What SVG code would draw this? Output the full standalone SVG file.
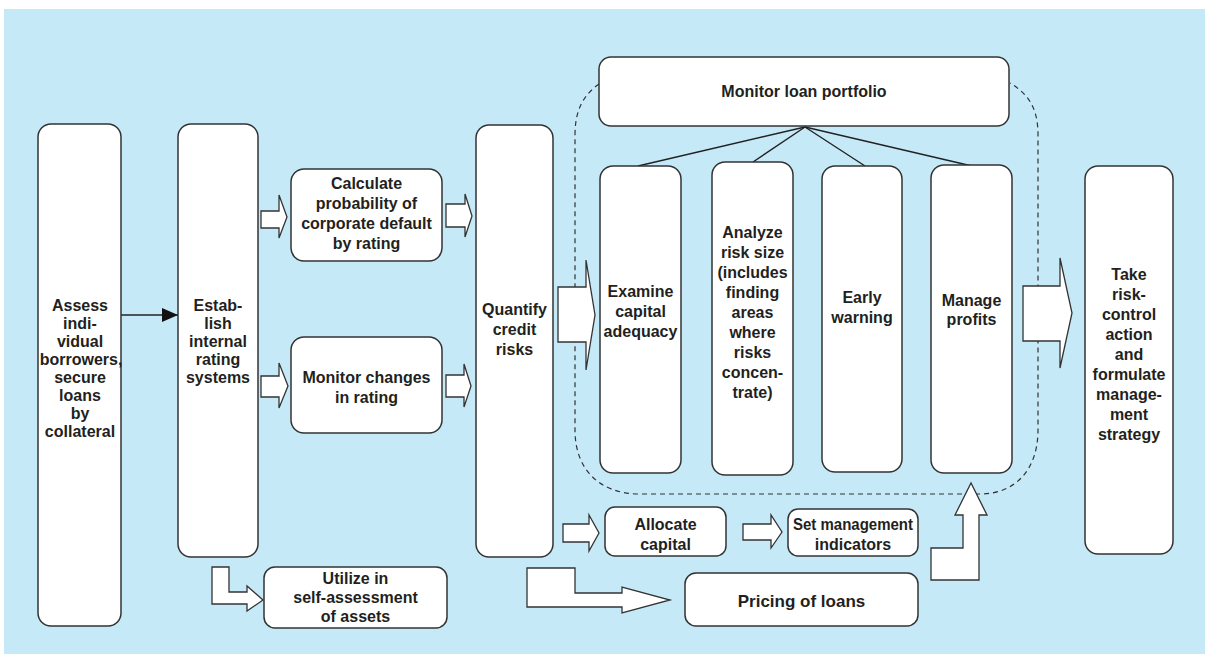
<svg xmlns="http://www.w3.org/2000/svg" width="1205" height="654" viewBox="0 0 1205 654">
  <style>
    .box { fill: #ffffff; stroke: #333333; stroke-width: 1.5; }
    .block { fill: #ffffff; stroke: #333333; stroke-width: 1.3; stroke-linejoin: miter; }
    .link { fill: none; stroke: #222222; stroke-width: 1.4; }
    .zone { fill: none; stroke: #333333; stroke-width: 1.2; stroke-dasharray: 5 4; }
    text { font-family: "Liberation Sans", Arial, Helvetica, sans-serif; font-weight: bold; font-size: 16px; fill: #231f20; text-anchor: middle; }
  </style>
  <defs>
    <marker id="solidHead" viewBox="0 0 16 14" refX="16" refY="7" markerWidth="16" markerHeight="14" markerUnits="userSpaceOnUse" orient="auto">
      <path d="M0,0 L16,7 L0,14 Z" fill="#111111"/>
    </marker>
  </defs>

  <!-- backdrop -->
  <rect x="0" y="0" width="1205" height="654" fill="#ffffff"/>
  <rect x="4" y="9" width="1201" height="645" fill="#c6e9f8"/>

  <!-- dashed boundary of the portfolio-monitoring stage -->
  <path class="zone" d="M599,84 C582,96 575,112 575,135 L575,430 C575,470 600,494 640,494 L980,494 C1015,494 1038,470 1038,430 L1038,135 C1038,110 1030,95 1010,83"/>

  <!-- connectors -->
  <g id="connectors">
    <line class="link" x1="121" y1="315" x2="178" y2="315" marker-end="url(#solidHead)"/>
    <!-- fan-out from the portfolio box -->
    <line class="link" x1="805" y1="127" x2="638" y2="166"/>
    <line class="link" x1="805" y1="127" x2="753" y2="162"/>
    <line class="link" x1="805" y1="127" x2="865" y2="166"/>
    <line class="link" x1="805" y1="127" x2="972" y2="166"/>
    <!-- hollow block arrows -->
    <polygon class="block" points="261,211 279,211 279,195 287,217 279,238 279,228 261,228"/>
    <polygon class="block" points="446,204 465,204 465,194 472,216 465,237 465,227 446,227"/>
    <polygon class="block" points="261,376 279,376 279,363 288,386 279,408 279,397 261,397"/>
    <polygon class="block" points="446,375 464,375 464,364 471,386 464,407 464,397 446,397"/>
    <polygon class="block" points="558,287 586,287 586,260 595,315 586,370 586,342 558,342"/>
    <polygon class="block" points="1023,286 1060,286 1060,258 1072,313 1060,368 1060,341 1023,341"/>
    <polygon class="block" points="563,524 589,524 589,515 599,533 589,551 589,542 563,542"/>
    <polygon class="block" points="743,524 771,524 771,515 782,532 771,548 771,540 743,540"/>
    <polygon class="block" points="212,567 229,567 229,592 247,592 247,586 263,600 247,611 247,604 212,604"/>
    <polygon class="block" points="527,568 575,568 575,593 622,593 622,587 670,600 622,613 622,607 527,607"/>
    <polygon class="block" points="931,548 963,548 963,515 955,515 971,483 987,515 979,515 979,580 931,580"/>
  </g>

  <g id="assess">
    <rect class="box" x="38" y="124" width="83" height="502" rx="13"/>
    <text x="80" y="311">Assess</text>
    <text x="80" y="329">indi-</text>
    <text x="80" y="347">vidual</text>
    <text x="81" y="365">borrowers,</text>
    <text x="80" y="383">secure</text>
    <text x="80" y="401">loans</text>
    <text x="80" y="419">by</text>
    <text x="80" y="437">collateral</text>
  </g>

  <g id="establish">
    <rect class="box" x="178" y="124" width="80" height="433" rx="13"/>
    <text x="218" y="311">Estab-</text>
    <text x="218" y="329">lish</text>
    <text x="218" y="347">internal</text>
    <text x="218" y="365">rating</text>
    <text x="218" y="383">systems</text>
  </g>

  <g id="calculate">
    <rect class="box" x="291" y="169" width="151" height="92" rx="13"/>
    <text x="366.5" y="189">Calculate</text>
    <text x="366.5" y="209">probability of</text>
    <text x="366.5" y="229">corporate default</text>
    <text x="366.5" y="249">by rating</text>
  </g>

  <g id="monitor-changes">
    <rect class="box" x="291" y="337" width="151" height="96" rx="13"/>
    <text x="366.5" y="383">Monitor changes</text>
    <text x="366.5" y="403">in rating</text>
  </g>

  <g id="utilize">
    <rect class="box" x="264" y="567" width="183" height="61" rx="11"/>
    <text x="355.5" y="584">Utilize in</text>
    <text x="355.5" y="603">self-assessment</text>
    <text x="355.5" y="622">of assets</text>
  </g>

  <g id="quantify">
    <rect class="box" x="476" y="125" width="77" height="432" rx="13"/>
    <text x="514.5" y="315">Quantify</text>
    <text x="514.5" y="335">credit</text>
    <text x="514.5" y="355">risks</text>
  </g>

  <g id="portfolio">
    <rect class="box" x="599" y="57" width="410" height="69" rx="12"/>
    <text x="804" y="97">Monitor loan portfolio</text>
  </g>

  <g id="capital-adequacy">
    <rect class="box" x="600" y="166" width="81" height="307" rx="13"/>
    <text x="640.5" y="297">Examine</text>
    <text x="640.5" y="317">capital</text>
    <text x="640.5" y="337">adequacy</text>
  </g>

  <g id="risk-size">
    <rect class="box" x="712" y="162" width="81" height="313" rx="13"/>
    <text x="752.5" y="238">Analyze</text>
    <text x="752.5" y="258">risk size</text>
    <text x="752.5" y="278">(includes</text>
    <text x="752.5" y="298">finding</text>
    <text x="752.5" y="318">areas</text>
    <text x="752.5" y="338">where</text>
    <text x="752.5" y="358">risks</text>
    <text x="752.5" y="378">concen-</text>
    <text x="752.5" y="398">trate)</text>
  </g>

  <g id="early-warning">
    <rect class="box" x="822" y="166" width="80" height="306" rx="13"/>
    <text x="862" y="303">Early</text>
    <text x="862" y="323">warning</text>
  </g>

  <g id="manage-profits">
    <rect class="box" x="931" y="165" width="81" height="308" rx="13"/>
    <text x="971.5" y="306">Manage</text>
    <text x="971.5" y="325">profits</text>
  </g>

  <g id="allocate">
    <rect class="box" x="605" y="507" width="121" height="49" rx="10"/>
    <text x="665.5" y="530">Allocate</text>
    <text x="665.5" y="550">capital</text>
  </g>

  <g id="indicators">
    <rect class="box" x="788" y="509" width="130" height="47" rx="10"/>
    <text x="853" y="530" textLength="120" lengthAdjust="spacingAndGlyphs">Set management</text>
    <text x="853" y="550">indicators</text>
  </g>

  <g id="pricing">
    <rect class="box" x="685" y="573" width="233" height="53" rx="11"/>
    <text x="801.5" y="607" style="font-size:17px">Pricing of loans</text>
  </g>

  <g id="strategy">
    <rect class="box" x="1085" y="166" width="88" height="388" rx="13"/>
    <text x="1129" y="280">Take</text>
    <text x="1129" y="300">risk-</text>
    <text x="1129" y="320">control</text>
    <text x="1129" y="340">action</text>
    <text x="1129" y="360">and</text>
    <text x="1129" y="380">formulate</text>
    <text x="1129" y="400">manage-</text>
    <text x="1129" y="420">ment</text>
    <text x="1129" y="440">strategy</text>
  </g>
</svg>
